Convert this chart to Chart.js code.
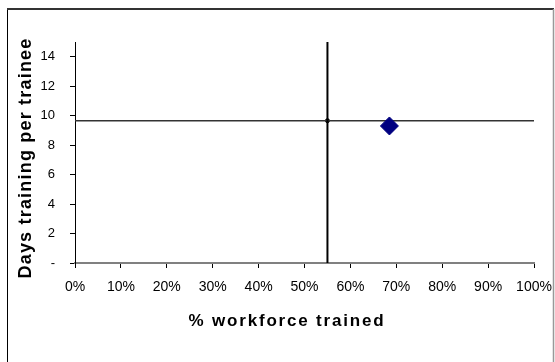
<!DOCTYPE html>
<html>
<head>
<meta charset="utf-8">
<script src="https://cdn.jsdelivr.net/npm/chart.js@4"></script>
<style>
  html, body { margin: 0; padding: 0; background: #fff; }
  #wrap { width: 555px; height: 362px; position: relative; }
</style>
</head>
<body>
<div id="wrap"><canvas id="myChart"></canvas></div>
<script>
// data
const pctTrained = [68.5];
const daysPerTrainee = [9.3];
const avgPct = [55];
const avgDays = [9.66];
const yMax = 15;
const xTitle = '% workforce trained';
const yTitle = 'Days training per trainee';

// outer frame + hand-drawn axis titles (spaced like the original)
const frame = {
  id: 'frame',
  beforeDraw(chart) {
    const c = chart.ctx;
    c.save();
    c.fillStyle = '#fff';
    c.fillRect(0, 0, chart.width, chart.height);
    c.lineWidth = 1;
    c.strokeStyle = '#000';
    c.beginPath(); c.moveTo(7.5, 9); c.lineTo(7.5, 362); c.stroke();
    c.lineWidth = 2;
    c.strokeStyle = '#333';
    c.beginPath(); c.moveTo(7, 9); c.lineTo(554, 9); c.stroke();
    c.lineWidth = 1.5;
    c.strokeStyle = '#999';
    c.beginPath(); c.moveTo(553.5, 9); c.lineTo(553.5, 362); c.stroke();
    c.restore();
  },
  afterDraw(chart) {
    const c = chart.ctx;
    c.save();
    c.fillStyle = '#000';
    c.textAlign = 'center';
    c.textBaseline = 'middle';
    c.font = 'bold 17px "Liberation Sans", Arial, sans-serif';
    let w = c.measureText(xTitle).width;
    c.letterSpacing = ((197 - w) / xTitle.length) + 'px';
    c.fillText(xTitle, 287, 321);
    c.letterSpacing = '0px';
    c.font = 'bold 18px "Liberation Sans", Arial, sans-serif';
    w = c.measureText(yTitle).width;
    c.letterSpacing = ((241 - w) / yTitle.length) + 'px';
    c.translate(26, 158);
    c.rotate(-Math.PI / 2);
    c.fillText(yTitle, 0, 0);
    c.restore();
  }
};

const ctx = document.getElementById('myChart').getContext('2d');

const myChart = new Chart(ctx, {
  type: 'scatter',
  data: {
    datasets: [{
      label: 'Company',
      data: pctTrained.map((v, i) => ({ x: v, y: daysPerTrainee[i] })),
      pointStyle: 'rectRot',
      pointRadius: 9,
      backgroundColor: '#000080',
      borderColor: '#000080',
      borderWidth: 1
    }, {
      label: 'avg %',
      data: [{ x: avgPct[0], y: 0 }, { x: avgPct[0], y: yMax }],
      showLine: true,
      borderColor: '#000',
      borderWidth: 2,
      pointRadius: 0
    }, {
      label: 'avg days',
      data: [{ x: 0, y: avgDays[0] }, { x: 100, y: avgDays[0] }],
      showLine: true,
      borderColor: '#333',
      borderWidth: 1.5,
      pointRadius: 0
    }, {
      label: 'average',
      data: [{ x: avgPct[0], y: avgDays[0] }],
      pointRadius: 2,
      backgroundColor: '#000',
      borderColor: '#000'
    }]
  },
  options: {
    responsive: true,
    maintainAspectRatio: false,
    animation: false,
    layout: { padding: { top: 42, right: 21, left: 0, bottom: 0 } },
    plugins: {
      legend: { display: false },
      tooltip: { enabled: false }
    },
    scales: {
      x: {
        type: 'linear',
        min: 0,
        max: 100,
        afterFit(scale) {
          scale.height = 99;
          scale.paddingLeft = 0;
          scale.paddingRight = 0;
        },
        border: { display: true, color: '#808080', width: 2 },
        grid: { drawOnChartArea: false, tickLength: 5, color: '#000' },
        ticks: {
          stepSize: 10,
          padding: 11,
          maxRotation: 0,
          color: '#000',
          font: { family: '"Liberation Sans", Arial, sans-serif', size: 14 },
          callback: v => v + '%'
        }
      },
      y: {
        min: 0,
        max: yMax,
        afterFit(scale) {
          scale.width = 75;
          scale.paddingTop = 0;
          scale.paddingBottom = 0;
        },
        border: { display: true, color: '#000', width: 1 },
        grid: { drawOnChartArea: false, tickLength: 5, color: '#000' },
        ticks: {
          stepSize: 2,
          includeBounds: false,
          padding: 15,
          color: '#000',
          font: { family: '"Liberation Sans", Arial, sans-serif', size: 13 },
          callback: v => v === 0 ? '-' : v
        }
      }
    }
  },
  plugins: [frame]
});
</script>
</body>
</html>
